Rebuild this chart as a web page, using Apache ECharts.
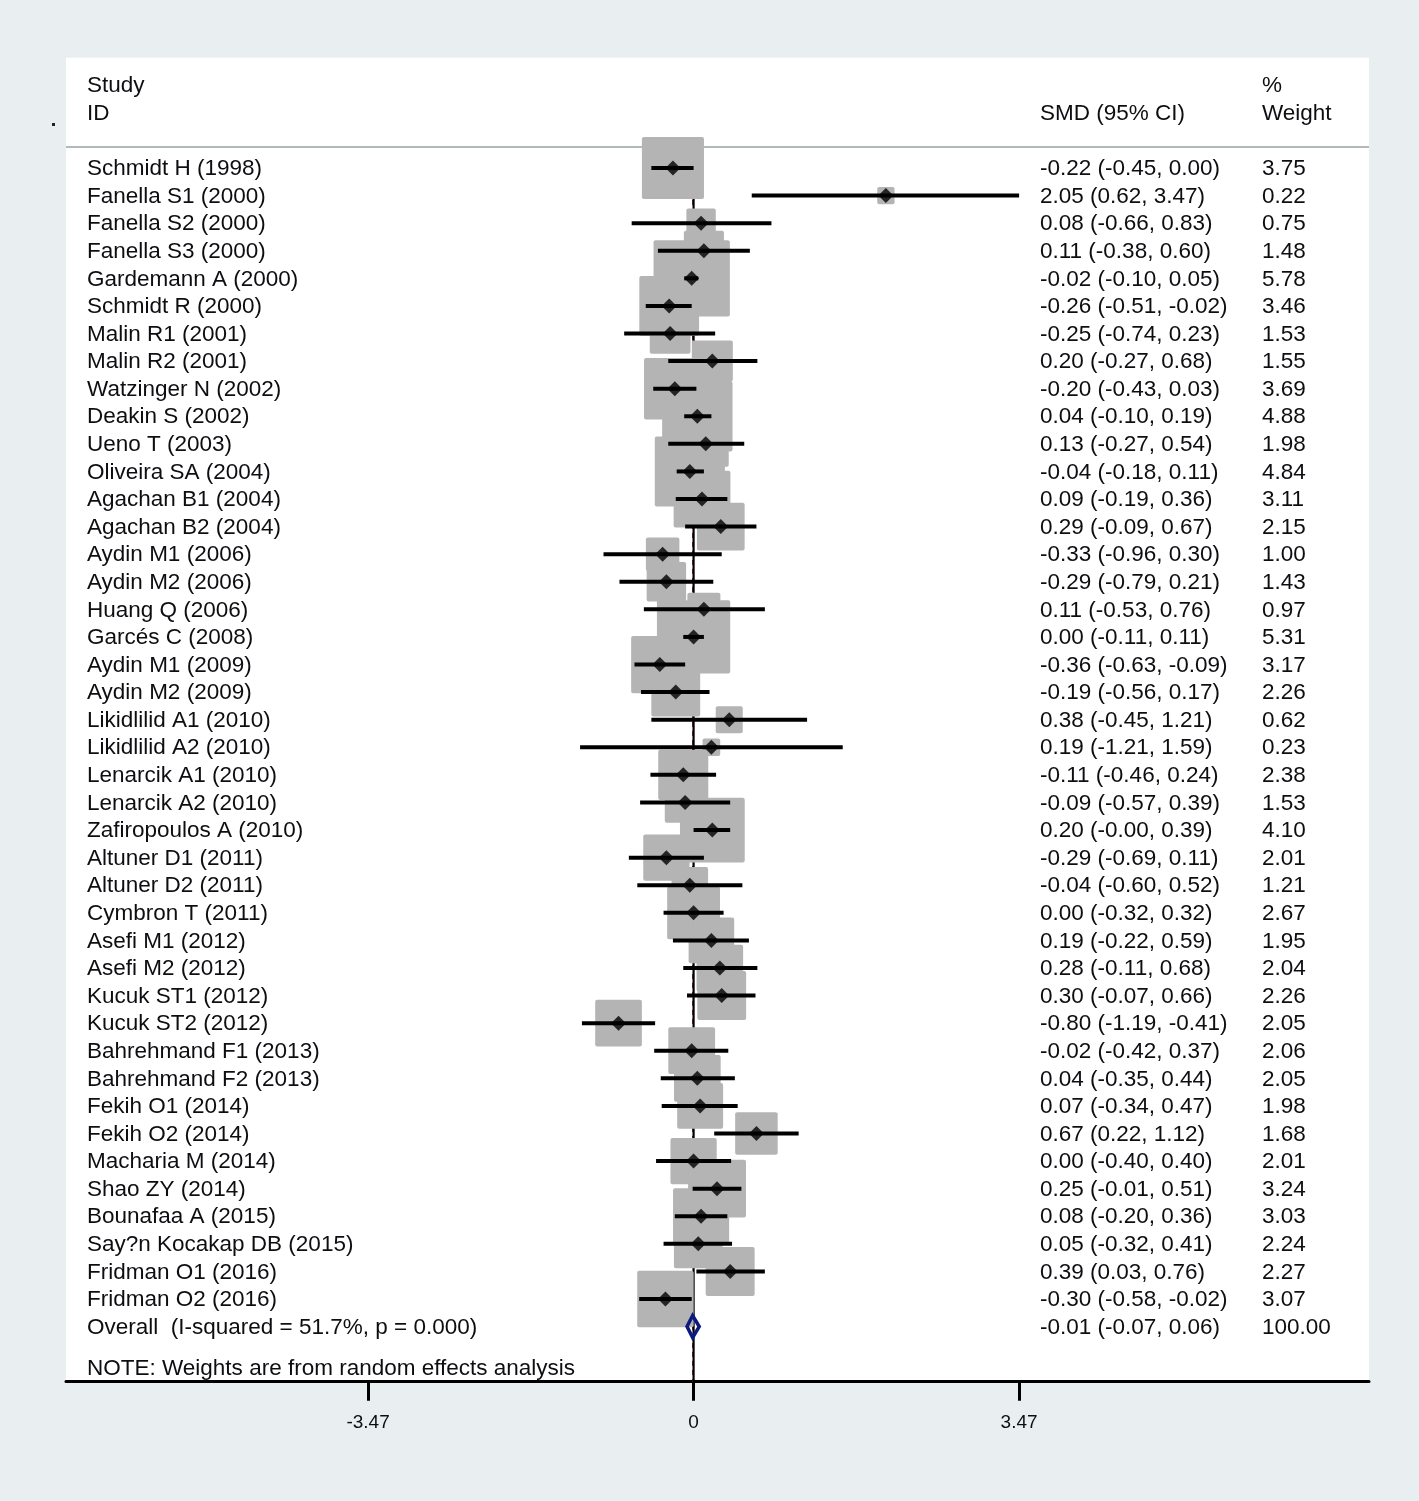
<!DOCTYPE html>
<html><head><meta charset="utf-8">
<script src="https://cdn.jsdelivr.net/npm/echarts@6/dist/echarts.min.js"></script>
<style>html,body{margin:0;padding:0;background:#e9eff0;}#c{width:1419px;height:1501px;}</style>
</head><body><div id="c"></div>
<script>
const studies = ['Schmidt H (1998)','Fanella S1 (2000)','Fanella S2 (2000)','Fanella S3 (2000)','Gardemann A (2000)','Schmidt R (2000)','Malin R1 (2001)','Malin R2 (2001)','Watzinger N (2002)','Deakin S (2002)','Ueno T (2003)','Oliveira SA (2004)','Agachan B1 (2004)','Agachan B2 (2004)','Aydin M1 (2006)','Aydin M2 (2006)','Huang Q (2006)','Garcés C (2008)','Aydin M1 (2009)','Aydin M2 (2009)','Likidlilid A1 (2010)','Likidlilid A2 (2010)','Lenarcik A1 (2010)','Lenarcik A2 (2010)','Zafiropoulos A (2010)','Altuner D1 (2011)','Altuner D2 (2011)','Cymbron T (2011)','Asefi M1 (2012)','Asefi M2 (2012)','Kucuk ST1 (2012)','Kucuk ST2 (2012)','Bahrehmand F1 (2013)','Bahrehmand F2 (2013)','Fekih O1 (2014)','Fekih O2 (2014)','Macharia M (2014)','Shao ZY (2014)','Bounafaa A (2015)','Say?n Kocakap DB (2015)','Fridman O1 (2016)','Fridman O2 (2016)'];
const smd = [-0.22,2.05,0.08,0.11,-0.02,-0.26,-0.25,0.20,-0.20,0.04,0.13,-0.04,0.09,0.29,-0.33,-0.29,0.11,0.00,-0.36,-0.19,0.38,0.19,-0.11,-0.09,0.20,-0.29,-0.04,0.00,0.19,0.28,0.30,-0.80,-0.02,0.04,0.07,0.67,0.00,0.25,0.08,0.05,0.39,-0.30];
const ciLow = [-0.45,0.62,-0.66,-0.38,-0.10,-0.51,-0.74,-0.27,-0.43,-0.10,-0.27,-0.18,-0.19,-0.09,-0.96,-0.79,-0.53,-0.11,-0.63,-0.56,-0.45,-1.21,-0.46,-0.57,-0.00,-0.69,-0.60,-0.32,-0.22,-0.11,-0.07,-1.19,-0.42,-0.35,-0.34,0.22,-0.40,-0.01,-0.20,-0.32,0.03,-0.58];
const ciHigh = [0.00,3.47,0.83,0.60,0.05,-0.02,0.23,0.68,0.03,0.19,0.54,0.11,0.36,0.67,0.30,0.21,0.76,0.11,-0.09,0.17,1.21,1.59,0.24,0.39,0.39,0.11,0.52,0.32,0.59,0.68,0.66,-0.41,0.37,0.44,0.47,1.12,0.40,0.51,0.36,0.41,0.76,-0.02];
const weights = [3.75,0.22,0.75,1.48,5.78,3.46,1.53,1.55,3.69,4.88,1.98,4.84,3.11,2.15,1.00,1.43,0.97,5.31,3.17,2.26,0.62,0.23,2.38,1.53,4.10,2.01,1.21,2.67,1.95,2.04,2.26,2.05,2.06,2.05,1.98,1.68,2.01,3.24,3.03,2.24,2.27,3.07];
const overallLabel = 'Overall  (I-squared = 51.7%, p = 0.000)';
const overallSmd = -0.01, overallLow = -0.07, overallHigh = 0.06, overallWeight = 100.00;
const headerStudy = ['Study','ID'];
const headerSmd = 'SMD (95% CI)';
const headerWeight = ['%','Weight'];
const noteText = 'NOTE: Weights are from random effects analysis';
const tickValues = [-3.47, 0, 3.47];
const tickLabels = ['-3.47','0','3.47'];

function fmt(v){ return ((v < 0 || Object.is(v,-0)) ? '-' : '') + Math.abs(v).toFixed(2); }
function ciText(e,l,h){ return fmt(e)+' ('+fmt(l)+', '+fmt(h)+')'; }

const FONT = '"Liberation Sans", Arial, Helvetica, sans-serif';
const TXT = '#0e0e12';
const nRows = studies.length;
const overallRow = nRows;

const textRows = [];
textRows.push([-3, headerStudy[0], '', headerWeight[0]]);
textRows.push([-2, headerStudy[1], headerSmd, headerWeight[1]]);
studies.forEach((s,i)=>textRows.push([i, s, ciText(smd[i],ciLow[i],ciHigh[i]), weights[i].toFixed(2)]));
textRows.push([overallRow, overallLabel, ciText(overallSmd,overallLow,overallHigh), overallWeight.toFixed(2)]);
textRows.push([overallRow+1.5, noteText, '', '']);

const chart = echarts.init(document.getElementById('c'), null, {renderer:'canvas'});
const rowH = 27.585;
const gridTop = 168 - 4*rowH;
const gridBottomY = 168 + 44*rowH;

const option = {
  animation:false,
  backgroundColor:'#e9eff0',
  grid:{left:66, right:50, top:gridTop, bottom:1501-gridBottomY, show:true, backgroundColor:'#ffffff', borderWidth:0},
  xAxis:{type:'value', min:-6.69, max:7.20, splitLine:{show:false},
    axisLine:{show:true, onZero:false, lineStyle:{color:'#000', width:3}},
    axisTick:{show:true, customValues:tickValues, length:19, lineStyle:{color:'#000', width:3}},
    axisLabel:{show:true, customValues:tickValues, margin:32, color:TXT, fontSize:19, fontFamily:FONT,
      formatter:(v)=>{const k=tickValues.findIndex(t=>Math.abs(t-v)<1e-9); return k>=0?tickLabels[k]:'';}}
  },
  yAxis:{type:'value', inverse:true, min:-4, max:44, show:false},
  graphic:[
    {type:'line', shape:{x1:66, y1:147, x2:1369, y2:147}, style:{stroke:'#b3b9ba', lineWidth:2}, z:0},
    {type:'rect', shape:{x:52, y:123, width:3, height:3}, style:{fill:'#222'}}
  ],
  series:[
    {type:'line', silent:true, z:1, symbol:'none', data:[[overallSmd,-0.8],[overallSmd,44]],
      lineStyle:{color:'#8a1010', width:1, type:[5,4]}},
    {type:'line', silent:true, z:2, symbol:'none', data:[[0,-0.8],[0,44]],
      lineStyle:{color:'#000', width:2.2}},
    {type:'custom', silent:true, z:3, clip:false,
      data:studies.map((s,i)=>[smd[i], i, weights[i]]), encode:{x:0,y:1},
      renderItem:(p,api)=>{
        const c=api.coord([api.value(0),api.value(1)]);
        const s=3+30.5*Math.sqrt(api.value(2));
        return {type:'rect', shape:{x:c[0]-s/2, y:c[1]-s/2, width:s, height:s, r:2}, style:{fill:'#b4b4b4'}};
      }},
    {type:'custom', silent:true, z:4, clip:false,
      data:studies.map((s,i)=>[ciLow[i], ciHigh[i], i]), encode:{x:[0,1],y:2},
      renderItem:(p,api)=>{
        const a=api.coord([api.value(0),api.value(2)]), b=api.coord([api.value(1),api.value(2)]);
        return {type:'line', shape:{x1:a[0],y1:a[1],x2:b[0],y2:b[1]}, style:{stroke:'#000', lineWidth:4}};
      }},
    {type:'scatter', silent:true, z:5, symbol:'diamond', symbolSize:[15,15],
      itemStyle:{color:'#000'}, data:studies.map((s,i)=>[smd[i], i])},
    {type:'custom', silent:true, z:6, clip:false,
      data:[[overallLow, overallSmd, overallHigh, overallRow]], encode:{x:[0,2],y:3},
      renderItem:(p,api)=>{
        const r=api.value(3);
        const L=api.coord([api.value(0),r]), C=api.coord([api.value(1),r]), H=api.coord([api.value(2),r]);
        const h=0.4*rowH;
        return {type:'polygon', shape:{points:[[L[0],L[1]],[C[0],C[1]-h],[H[0],H[1]],[C[0],C[1]+h]]},
          style:{fill:'none', stroke:'#0a1a80', lineWidth:3.5}};
      }},
    {type:'custom', silent:true, z:7, clip:false,
      data:textRows.map(r=>[0, r[0]]), encode:{x:0,y:1},
      renderItem:(p,api)=>{
        const r=textRows[p.dataIndex];
        const y=api.coord([0,api.value(1)])[1]+1;
        const mk=(x,t)=>({type:'text', x:x, y:y, style:{text:t, fill:TXT, font:'22.5px '+FONT, verticalAlign:'middle', align:'left'}});
        return {type:'group', children:[mk(87,r[1]), mk(1040,r[2]), mk(1262,r[3])]};
      }}
  ]
};
chart.setOption(option);
</script>
</body></html>
